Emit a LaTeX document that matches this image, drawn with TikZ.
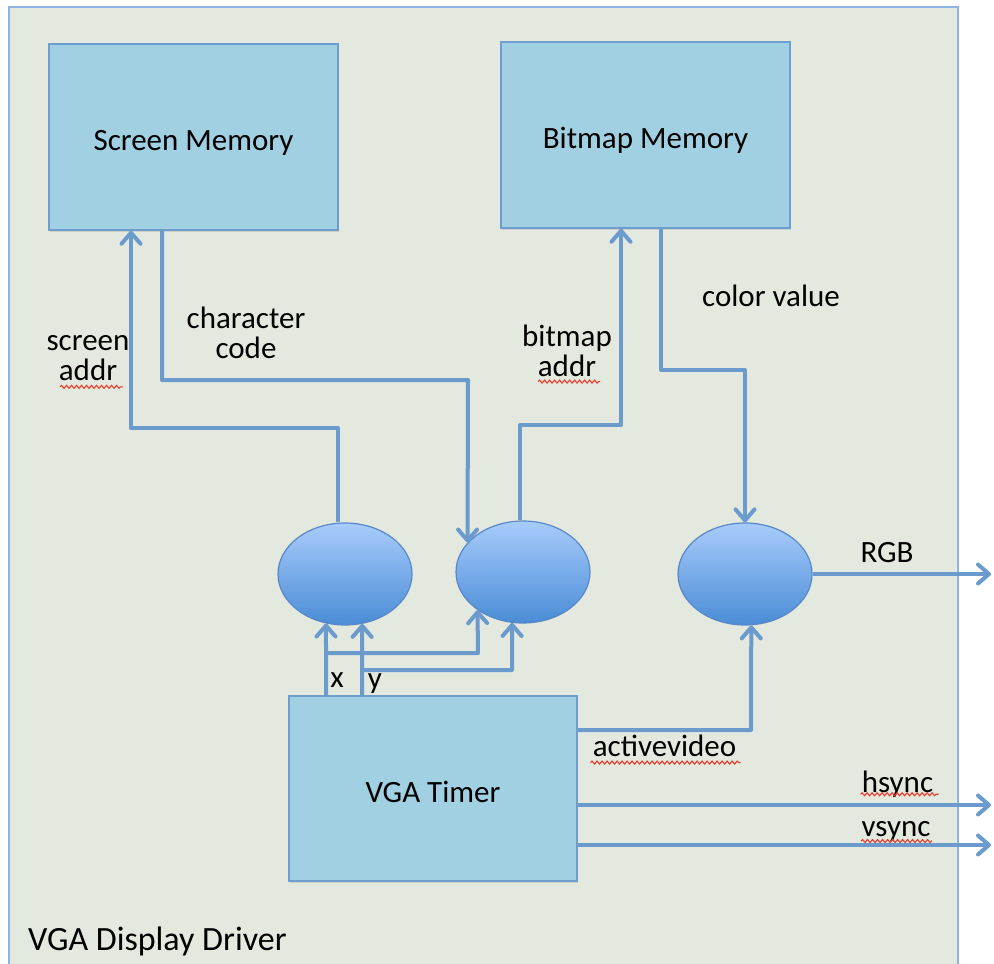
\documentclass[tikz,border=0pt]{standalone}
\usepackage{fontspec}
\setmainfont{Carlito}
\usetikzlibrary{arrows.meta,shapes.geometric,decorations.pathmorphing,shadows}

\definecolor{panel}{RGB}{228,233,224}
\definecolor{panelline}{RGB}{141,179,226}
\definecolor{boxfill}{RGB}{160,208,226}
\definecolor{boxline}{RGB}{110,158,206}
\definecolor{wire}{RGB}{106,155,204}
\definecolor{elltop}{RGB}{168,204,252}
\definecolor{ellbot}{RGB}{74,140,214}
\definecolor{ellline}{RGB}{88,136,200}
\definecolor{spellred}{RGB}{235,60,45}

\begin{document}
\begin{tikzpicture}[x=1pt,y=-1pt,
  lbl/.style={font=\fontsize{31}{30}\selectfont, inner sep=0pt, align=center},
  block/.style={rectangle, fill=boxfill, draw=boxline, line width=1.5pt,
    minimum width=289pt, minimum height=186pt, inner sep=0pt,
    text height=27pt, text depth=0pt,
    font=\fontsize{31}{36}\selectfont,
    drop shadow={opacity=0.22, shadow xshift=1pt, shadow yshift=-2pt}},
  ell/.style={ellipse, draw=ellline, line width=1.2pt, top color=elltop,
    bottom color=ellbot, minimum width=134pt, minimum height=102pt, inner sep=0pt},
  conn/.style={draw=wire, line width=4pt, line join=round,
    -{Straight Barb[length=11pt,width=19pt,round]}},
  spell/.style={draw=spellred, line width=1.1pt, decorate,
    decoration={snake, segment length=5pt, amplitude=1.5pt}}
]
\useasboundingbox (0,0) rectangle (994,964);

% enclosing panel
\filldraw[fill=panel, draw=panelline, line width=1.5pt] (9,7) rectangle (958,990);

% blocks
\node[block] (sm) at (193.5,137) {Screen Memory};
\node[block] (bm) at (645.5,135) {Bitmap Memory};
\node[block, minimum width=288pt, minimum height=185pt] (vga) at (433,788.5) {VGA Timer};

% combining units
\node[ell] (e1) at (345,574) {};
\node[ell] (e2) at (523,572) {};
\node[ell] (e3) at (745,574) {};

% screen address
\draw[conn] (338,0 |- e1.north) -- (338,428) -- (131,428) -- (131,0 |- sm.south);
% character code
\draw[conn] (162,0 |- sm.south) -- (162,380) -- (468,380) -- (e2.152);
% bitmap address
\draw[conn] (520,0 |- e2.north) -- (520,425) -- (621,425) -- (621,0 |- bm.south);
% color value
\draw[conn] (661,0 |- bm.south) -- (661,370) -- (745,370) -- (e3.north);

% x and y counters
\draw[conn] (326,0 |- vga.north) -- (e1.249);
\coordinate (xj) at (326,653);
\draw[conn] (xj) -- (478,653) -- (e2.220);
\draw[conn] (362,0 |- vga.north) -- (e1.289);
\coordinate (yj) at (362,670);
\draw[conn] (yj) -- (512,670) -- (e2.258);

% active video
\draw[conn] (vga.east |- 0,730) -- (751,730) -- (e3.277);

% outputs
\coordinate (rgbout) at (991,574);
\draw[conn] (e3.east) -- (rgbout);
\coordinate (hout) at (991,805);
\draw[conn] (vga.east |- hout) -- (hout);
\coordinate (vout) at (991,845);
\draw[conn] (vga.east |- vout) -- (vout);

% signal labels
\node[lbl] (lsa) at (88,358) {screen\\addr};
\node[lbl] (lcc) at (246,333) {character\\code};
\node[lbl] (lba) at (567,350.5) {bitmap\\addr};
\node[lbl] (lcv) at (771,295.5) {color value};
\node[lbl] (lrgb) at (887,553) {RGB};
\node[lbl] (lav) at (664.5,745.5) {activevideo};
\node[lbl] (lhs) at (897.5,784) {hsync};
\node[lbl] (lvs) at (896,831) {vsync};
\node[lbl] (lx) at (337,680.5) {x};
\node[lbl] (ly) at (375,684) {y};
\node[lbl, font=\fontsize{34}{34}\selectfont, anchor=base west] (title) at (28,950) {VGA Display Driver};

% spell-check underlines
\draw[spell] ([xshift=-28pt,yshift=-6pt]lsa.south) -- ([xshift=35pt,yshift=-6pt]lsa.south);
\draw[spell] ([xshift=-29pt,yshift=-5pt]lba.south) -- ([xshift=33pt,yshift=-5pt]lba.south);
\draw[spell] ([xshift=-74pt,yshift=-6pt]lav.south) -- ([xshift=76pt,yshift=-6pt]lav.south);
\draw[spell] ([xshift=-37pt,yshift=-2pt]lhs.base) -- ([xshift=41pt,yshift=-2pt]lhs.base);
\draw[spell] ([xshift=-35pt,yshift=-5pt]lvs.base) -- ([xshift=36pt,yshift=-5pt]lvs.base);
\end{tikzpicture}
\end{document}
